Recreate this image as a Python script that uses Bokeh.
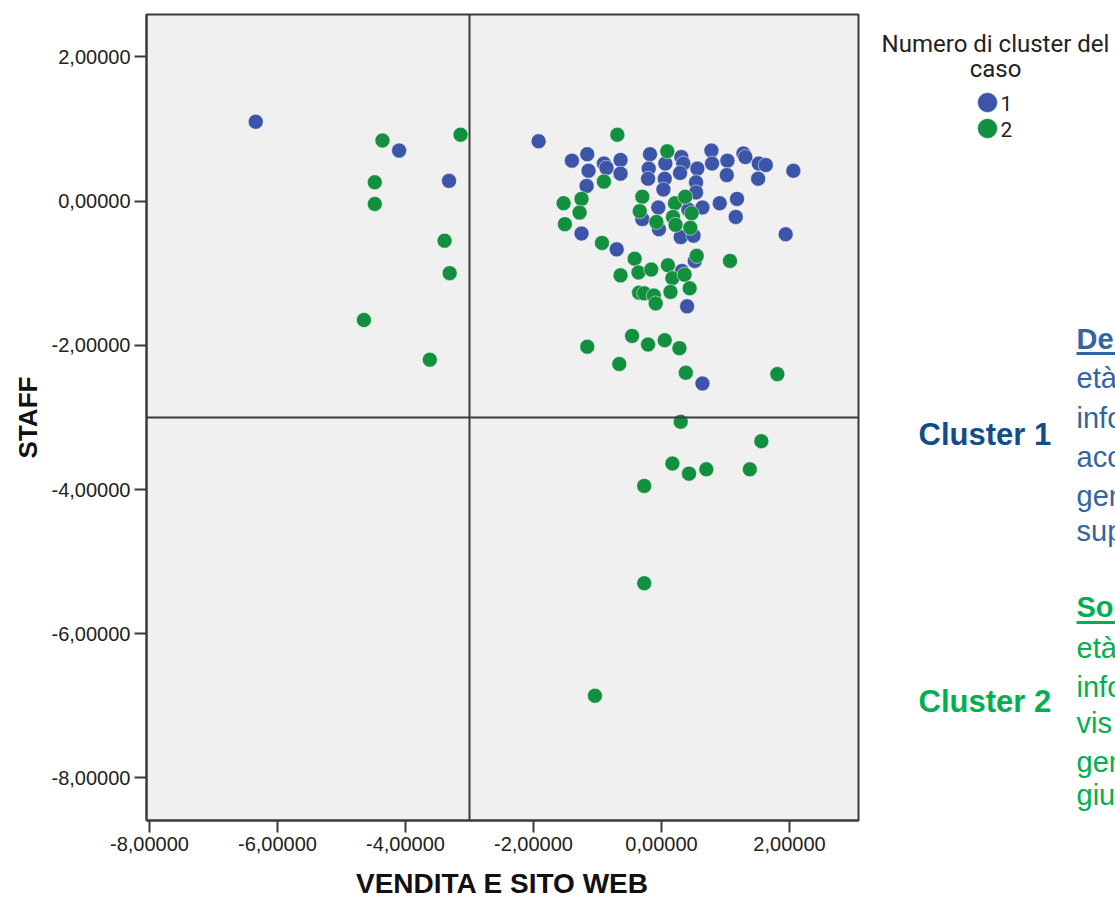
from bokeh.plotting import figure
from bokeh.models import Range1d, FixedTicker, CustomJSTickFormatter, Span
from bokeh.layouts import row
from bokeh.embed import file_html
from bokeh.resources import INLINE
from bokeh.core.properties import value

# ---- data ----
c1_x = [-6.34, -4.10, -3.32, -1.92, -1.16, -1.40, -1.14, -0.90, -0.86, -0.64, -0.64, -1.17,
        -0.18, -0.20, -0.21, 0.06, 0.05, 0.03, 0.31, 0.34, 0.29, 0.56, 0.54, 0.54, 0.78, 0.79,
        1.03, 1.02, 1.28, 1.31, 1.52, 1.63, 1.51, 2.06, -1.25, -0.70, -0.30, -0.05, -0.04, 0.42,
        0.30, 0.50, 0.64, 0.91, 1.18, 1.16, 1.94, 0.52, 0.32, 0.40, 0.64]
c1_y = [1.10, 0.70, 0.28, 0.83, 0.65, 0.56, 0.42, 0.52, 0.46, 0.57, 0.38, 0.21,
        0.65, 0.45, 0.31, 0.52, 0.31, 0.16, 0.61, 0.52, 0.39, 0.45, 0.26, 0.12, 0.70, 0.52,
        0.56, 0.36, 0.66, 0.61, 0.52, 0.50, 0.31, 0.42, -0.45, -0.67, -0.25, -0.09, -0.39, -0.12,
        -0.50, -0.48, -0.09, -0.03, 0.03, -0.22, -0.46, -0.83, -0.97, -1.46, -2.53]

c2_x = [-4.36, -3.14, -4.48, -4.48, -3.39, -3.31, -4.65, -3.62, -0.69, -0.90, 0.09, -1.53,
        -1.25, -1.28, -1.51, -0.93, -0.30, -0.34, -0.08, 0.21, 0.37, 0.47, 0.18, 0.22, 0.45,
        -0.42, 0.55, 1.07, -0.64, -0.36, -0.16, 0.10, 0.17, 0.36, 0.44, -0.35, -0.27, -0.12,
        -0.09, 0.14, -0.46, -1.16, -0.21, 0.05, 0.28, -0.66, 0.38, 1.81, 0.30, 1.56, 0.17,
        0.43, 0.70, 1.38, -0.27, -0.27, -1.04]
c2_y = [0.84, 0.92, 0.26, -0.04, -0.55, -1.00, -1.65, -2.20, 0.92, 0.27, 0.69, -0.03,
        0.03, -0.16, -0.32, -0.58, 0.06, -0.14, -0.29, -0.03, 0.06, -0.17, -0.22, -0.33, -0.37,
        -0.80, -0.76, -0.83, -1.03, -0.99, -0.95, -0.89, -1.07, -1.02, -1.21, -1.27, -1.28, -1.31,
        -1.42, -1.26, -1.87, -2.02, -1.99, -1.93, -2.04, -2.26, -2.38, -2.40, -3.06, -3.33, -3.64,
        -3.78, -3.72, -3.72, -3.95, -5.30, -6.86]

ticks = [-8, -6, -4, -2, 0, 2]
ref_x = -3.0
ref_y = -3.0
legend_labels = ["1", "2"]
colors = ["#3D55A8", "#13903F"]

# ---- main scatter ----
p = figure(width=860, height=901, output_backend="svg", toolbar_location=None,
           x_range=Range1d(-8.047, 3.078), y_range=Range1d(-8.59, 2.587),
           min_border_left=146, min_border_right=2, min_border_top=14, min_border_bottom=81)
p.background_fill_color = "#F0F0F0"
p.border_fill_color = "white"
p.outline_line_color = "#3A3A3A"
p.outline_line_width = 2
p.xgrid.visible = False
p.ygrid.visible = False

fmt = CustomJSTickFormatter(code="return tick.toFixed(5).replace('.', ',');")
for ax in (p.xaxis[0], p.yaxis[0]):
    ax.ticker = FixedTicker(ticks=ticks)
    ax.formatter = fmt
    ax.major_tick_out = 12
    ax.major_tick_in = 0
    ax.minor_tick_line_color = None
    ax.axis_line_color = "#3A3A3A"
    ax.axis_line_width = 2
    ax.major_tick_line_color = "#3A3A3A"
    ax.major_tick_line_width = 2
    ax.major_label_text_font = "Liberation Sans"
    ax.major_label_text_font_size = "20px"
    ax.major_label_text_color = "#222222"
    ax.major_label_standoff = 4
    ax.axis_label_text_font = "Liberation Sans"
    ax.axis_label_text_font_style = "bold"
    ax.axis_label_text_color = "#111111"

p.xaxis[0].axis_label = "VENDITA E SITO WEB"
p.xaxis[0].axis_label_text_font_size = "28px"
p.xaxis[0].axis_label_standoff = 14
p.yaxis[0].axis_label = "STAFF"
p.yaxis[0].axis_label_text_font_size = "26px"
p.yaxis[0].axis_label_standoff = 6

p.add_layout(Span(location=ref_x, dimension="height", line_color="#3A3A3A", line_width=2))
p.add_layout(Span(location=ref_y, dimension="width", line_color="#3A3A3A", line_width=2))

p.scatter(c1_x, c1_y, size=15, fill_color=colors[0], line_color="white", line_alpha=0.5, line_width=1)
p.scatter(c2_x, c2_y, size=15, fill_color=colors[1], line_color="white", line_alpha=0.5, line_width=1)

# ---- right side panel (legend + notes), pixel coordinates ----
s = figure(width=255, height=901, output_backend="svg", toolbar_location=None,
           x_range=Range1d(860, 1115), y_range=Range1d(820, 14),
           min_border_left=0, min_border_right=0, min_border_top=14, min_border_bottom=81)
s.axis.visible = False
s.xgrid.visible = False
s.ygrid.visible = False
s.outline_line_color = None
s.background_fill_color = "white"
s.border_fill_color = "white"

s.text(x=[995, 995], y=[43, 68], text=["Numero di cluster del", "caso"],
       text_font=value("Roboto"), text_font_size="24px", text_color="#222222",
       text_align="center", text_baseline="middle")
s.scatter(x=[987, 987], y=[102, 128], size=20, fill_color=colors, line_color="white", line_alpha=0.5)
s.text(x=[1000, 1000], y=[103, 129], text=legend_labels,
       text_font=value("Roboto"), text_font_size="21px", text_color="#222222",
       text_align="left", text_baseline="middle")

c1_title = "#0F4E8A"
c1_body = "#3464A2"
c2_col = "#00B050"
s.text(x=[918], y=[434], text=["Cluster 1"], text_font=value("Liberation Sans"),
       text_font_style="bold", text_font_size="31px", text_color=c1_title,
       text_align="left", text_baseline="middle")
s.text(x=[918], y=[701], text=["Cluster 2"], text_font=value("Liberation Sans"),
       text_font_style="bold", text_font_size="31px", text_color=c2_col,
       text_align="left", text_baseline="middle")

s.text(x=[1076], y=[338], text=["De"], text_font=value("Liberation Sans"),
       text_font_style="bold", text_font_size="29px", text_color=c1_body,
       text_align="left", text_baseline="middle")
s.segment(x0=[1076], y0=[353], x1=[1115], y1=[353], line_color=c1_body, line_width=3)
s.text(x=[1076] * 5, y=[377, 417, 456, 495, 530], text=["età", "info", "acc", "gen", "sup"],
       text_font=value("Liberation Sans"), text_font_size="29px", text_color=c1_body,
       text_align="left", text_baseline="middle")

s.text(x=[1076], y=[606], text=["So"], text_font=value("Liberation Sans"),
       text_font_style="bold", text_font_size="29px", text_color=c2_col,
       text_align="left", text_baseline="middle")
s.segment(x0=[1076], y0=[622], x1=[1115], y1=[622], line_color=c2_col, line_width=3)
s.text(x=[1076] * 5, y=[647, 686, 722, 761, 794], text=["età", "info", "vis", "gen", "giu"],
       text_font=value("Liberation Sans"), text_font_size="29px", text_color=c2_col,
       text_align="left", text_baseline="middle")

layout = row(p, s, spacing=0)
open("out.html", "w").write(file_html(layout, INLINE))
